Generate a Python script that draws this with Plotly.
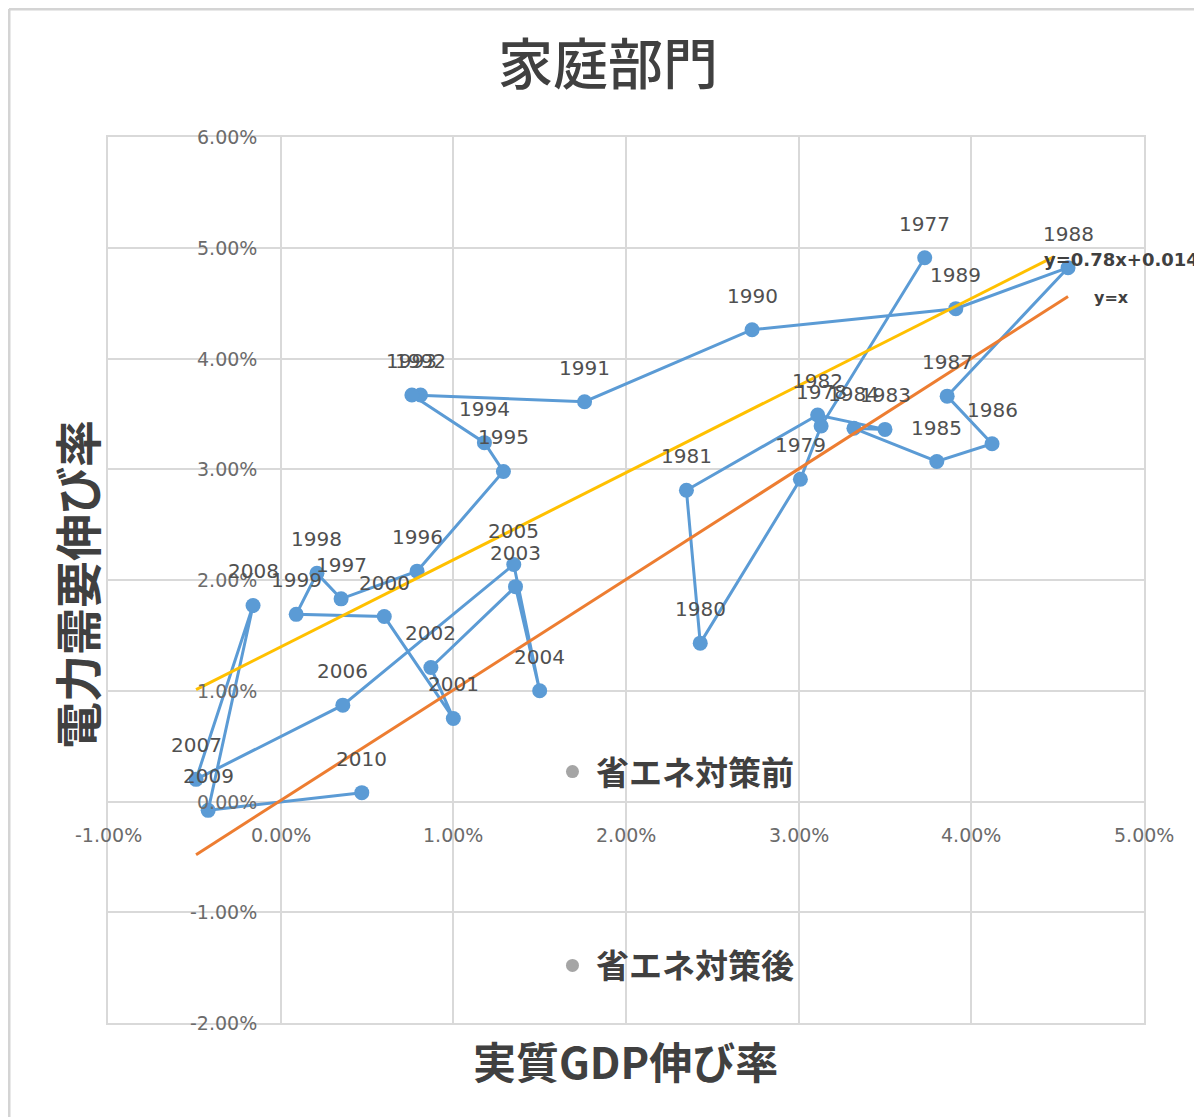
import plotly.graph_objects as go

# ---- data (percent) ----
years = list(range(1977, 2011))
gdp_growth = [3.73, 3.13, 3.01, 2.43, 2.35, 3.11, 3.50, 3.32, 3.80, 4.12,
              3.86, 4.56, 3.91, 2.73, 1.76, 0.81, 0.76, 1.18, 1.29, 0.79,
              0.35, 0.21, 0.09, 0.60, 1.00, 0.87, 1.36, 1.50, 1.35, 0.36,
              -0.49, -0.16, -0.42, 0.47]
power_growth = [4.91, 3.39, 2.91, 1.43, 2.81, 3.49, 3.36, 3.37, 3.07, 3.23,
                3.66, 4.82, 4.45, 4.26, 3.61, 3.67, 3.67, 3.24, 2.98, 2.08,
                1.83, 2.06, 1.69, 1.67, 0.75, 1.21, 1.94, 1.00, 2.14, 0.87,
                0.20, 1.77, -0.08, 0.08]

trend_x = [-0.49, 4.48]
trend_y = [1.01, 4.92]
trend_label = "y=0.78x+0.014"
ident_x = [-0.49, 4.56]
ident_y = [-0.48, 4.56]
ident_label = "y=x"

marker_labels = ["省エネ対策前", "省エネ対策後"]
marker_x = [1.69, 1.69]
marker_y = [0.27, -1.48]

x_ticks = [-1, 0, 1, 2, 3, 4, 5]
x_tick_labels = ["-1.00%", "0.00%", "1.00%", "2.00%", "3.00%", "4.00%", "5.00%"]
y_ticks = [-2, -1, 0, 1, 2, 3, 4, 5, 6]
y_tick_labels = ["-2.00%", "-1.00%", "0.00%", "1.00%", "2.00%", "3.00%", "4.00%", "5.00%", "6.00%"]

title = "家庭部門"
x_title = "実質GDP伸び率"
y_title = "電力需要伸び率"

CJK = "Noto Sans CJK JP"
NUM = "DejaVu Sans"
GRID = "#d9d9d9"

# figure geometry (page body adds an 8px offset)
W, H = 1194, 1109
ML, MT, MR, MB = 100, 129, 58, 94
PW, PH = W - ML - MR, H - MT - MB

fig = go.Figure()

fig.add_trace(go.Scatter(
    x=gdp_growth, y=power_growth, mode="lines+markers",
    line=dict(color="#5b9bd5", width=3),
    marker=dict(color="#5b9bd5", size=15),
    showlegend=False, hoverinfo="skip"))

fig.add_trace(go.Scatter(
    x=trend_x, y=trend_y, mode="lines",
    line=dict(color="#ffc000", width=3), showlegend=False, hoverinfo="skip"))
fig.add_trace(go.Scatter(
    x=ident_x, y=ident_y, mode="lines",
    line=dict(color="#ed7d31", width=3), showlegend=False, hoverinfo="skip"))

fig.add_trace(go.Scatter(
    x=marker_x, y=marker_y, mode="markers",
    marker=dict(color="#a5a5a5", size=13), showlegend=False, hoverinfo="skip"))

ann = []
# tick labels placed where the axes cross at zero (Excel style)
for v, t in zip(y_ticks, y_tick_labels):
    ann.append(dict(x=0, y=v, xref="x", yref="y", text=t, showarrow=False,
                    xanchor="right", yanchor="middle", xshift=-22,
                    font=dict(family=NUM, size=19, color="#6b6b6b")))
for v, t in zip(x_ticks, x_tick_labels):
    ann.append(dict(x=v, y=0, xref="x", yref="y", text=t, showarrow=False,
                    xanchor="center", yanchor="middle", yshift=-33,
                    font=dict(family=NUM, size=19, color="#6b6b6b")))
# year labels
for xv, yv, yr in zip(gdp_growth, power_growth, years):
    ann.append(dict(x=xv, y=yv, xref="x", yref="y", text=str(yr), showarrow=False,
                    xanchor="center", yanchor="middle", yshift=34,
                    font=dict(family=NUM, size=20, color="#505050")))
# trend labels
ann.append(dict(x=trend_x[-1], y=trend_y[-1], xref="x", yref="y", text="<b>" + trend_label + "</b>",
                showarrow=False, xanchor="left", yanchor="middle", xshift=-12, yshift=-3,
                font=dict(family=NUM, size=18, color="#404040")))
ann.append(dict(x=ident_x[-1], y=ident_y[-1], xref="x", yref="y", text="<b>" + ident_label + "</b>",
                showarrow=False, xanchor="left", yanchor="middle", xshift=24, yshift=-1,
                font=dict(family=NUM, size=16, color="#404040")))
# marker labels
for xv, yv, t in zip(marker_x, marker_y, marker_labels):
    ann.append(dict(x=xv, y=yv, xref="x", yref="y", text="<b>" + t + "</b>", showarrow=False,
                    xanchor="left", yanchor="middle", xshift=22, yshift=1,
                    font=dict(family=CJK, size=33, color="#404040")))
# axis titles
ann.append(dict(x=(617 - ML) / PW, y=(MT + PH - 1052) / PH, xref="paper", yref="paper",
                text="<b>" + x_title + "</b>",
                showarrow=False, xanchor="center", yanchor="middle",
                font=dict(family=CJK, size=43, color="#404040")))
ann.append(dict(x=(67 - ML) / PW, y=(MT + PH - 577) / PH, xref="paper", yref="paper",
                text="<b>" + y_title + "</b>",
                showarrow=False, xanchor="center", yanchor="middle", textangle=-90,
                font=dict(family=CJK, size=47, color="#404040")))

# outer chart frame (top and left edges visible in the crop)
fx0 = (1 - ML) / PW
fy_top = (MT + PH - 1) / PH
shapes = [
    dict(type="line", xref="paper", yref="paper", x0=fx0, x1=(W - ML) / PW,
         y0=fy_top, y1=fy_top, line=dict(color="#d4d4d4", width=3)),
    dict(type="line", xref="paper", yref="paper", x0=fx0, x1=fx0,
         y0=fy_top, y1=(MT + PH - H) / PH, line=dict(color="#d4d4d4", width=3)),
]

fig.update_layout(
    width=W, height=H,
    margin=dict(l=ML, r=MR, t=MT, b=MB),
    paper_bgcolor="white", plot_bgcolor="white",
    title=dict(text=title, x=(600 - 0) / W, y=1 - 57 / H, xanchor="center", yanchor="middle",
               font=dict(family=CJK, size=55, color="#404040", weight=500)),
    xaxis=dict(range=[-1, 5], tickvals=x_ticks, showticklabels=False, showgrid=True,
               gridcolor=GRID, gridwidth=1.5, zeroline=True, zerolinecolor=GRID, zerolinewidth=1.5,
               showline=True, linecolor=GRID, linewidth=1.5, mirror=True, ticks=""),
    yaxis=dict(range=[-2, 6], tickvals=y_ticks, showticklabels=False, showgrid=True,
               gridcolor=GRID, gridwidth=1.5, zeroline=True, zerolinecolor=GRID, zerolinewidth=1.5,
               showline=True, linecolor=GRID, linewidth=1.5, mirror=True, ticks=""),
    annotations=ann, shapes=shapes, showlegend=False,
)

fig.write_html("out.html")
